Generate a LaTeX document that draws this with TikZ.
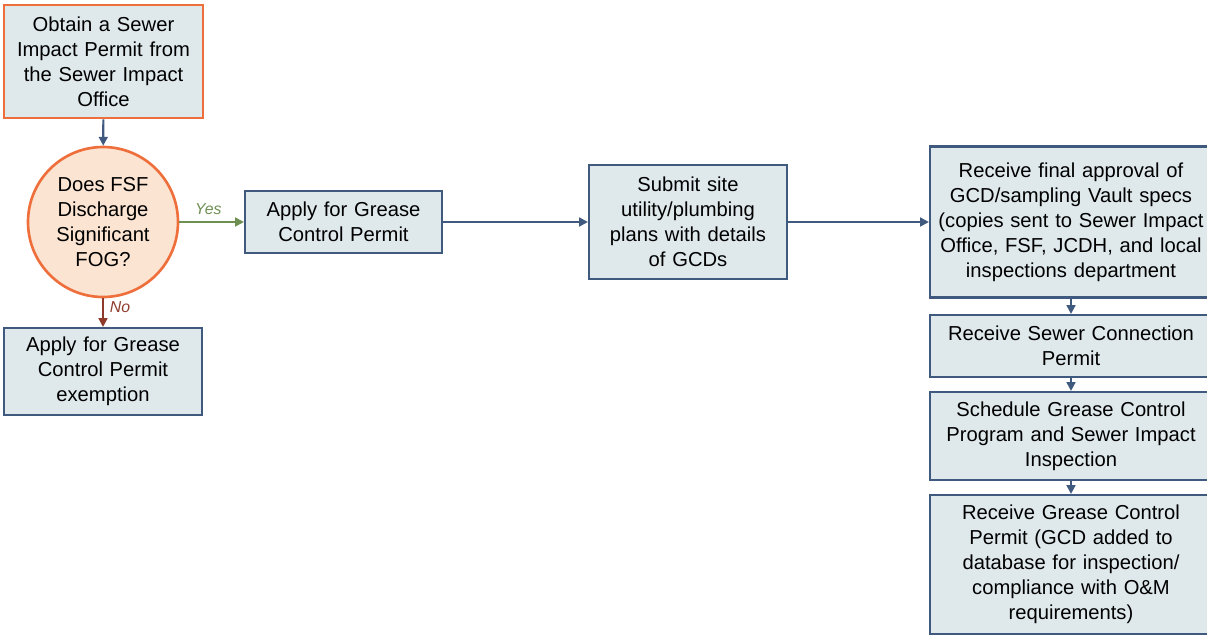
\documentclass[tikz,border=0pt]{standalone}
\usepackage{fontspec}
\setmainfont{Liberation Sans}
\usepackage{tikz}
\usetikzlibrary{positioning, arrows.meta, arrows}
\definecolor{boxfill}{HTML}{DFE9EC}
\definecolor{boxline}{HTML}{3F5A7E}
\definecolor{orangeline}{HTML}{EF6F3C}
\definecolor{fogfill}{HTML}{FBE4D1}
\definecolor{yesgreen}{HTML}{6E8F52}
\definecolor{nored}{HTML}{8E3B2C}

\begin{document}
\begin{tikzpicture}[
    font=\fontsize{11.5}{14.2}\selectfont,
    stepbox/.style={draw=boxline, fill=boxfill, line width=1.2pt, align=center, inner sep=2pt},
    flow/.style={-{Triangle[length=5pt, width=5pt]}, draw=boxline, line width=1.2pt}
  ]

		\useasboundingbox (0,0) rectangle (24.14,-12.72);

		% left column
		\node[stepbox, draw=orangeline, line width=1.5pt, minimum width=3.98cm, minimum height=2.26cm, text width=3.8cm] (obtain) at (2.07,-1.23) {Obtain a Sewer\\Impact Permit from\\the Sewer Impact\\Office};
		\node[circle, draw=orangeline, fill=fogfill, line width=1.5pt, minimum size=3.0cm, align=center] (fog) at (2.06,-4.44) {Does FSF\\Discharge\\Significant\\FOG?};
		\node[stepbox, minimum width=3.96cm, minimum height=1.74cm, text width=3.8cm] (exempt) at (2.06,-7.43) {Apply for Grease\\Control Permit\\exemption};

		% middle
		\node[stepbox, minimum width=3.94cm, minimum height=1.24cm, text width=3.8cm] (apply) at (6.87,-4.44) {Apply for Grease\\Control Permit};
		\node[stepbox, minimum width=3.96cm, minimum height=2.28cm, text width=3.8cm] (submit) at (13.76,-4.44) {Submit site\\utility/plumbing\\plans with details\\of GCDs};

		% right column
		\node[stepbox, minimum width=5.56cm, minimum height=3.02cm, text width=5.5cm] (final) at (21.42,-4.44) {Receive final approval of\\GCD/sampling Vault specs\\(copies sent to Sewer Impact\\Office, FSF, JCDH, and local\\inspections department};
		\node[stepbox, minimum width=5.56cm, minimum height=1.24cm, text width=5.5cm] (conn) at (21.42,-6.92) {Receive Sewer Connection\\Permit};
		\node[stepbox, minimum width=5.56cm, minimum height=1.76cm, text width=5.5cm] (sched) at (21.42,-8.72) {Schedule Grease Control\\Program and Sewer Impact\\Inspection};
		\node[stepbox, minimum width=5.56cm, minimum height=2.78cm, text width=5.5cm] (permit) at (21.42,-11.29) {Receive Grease Control\\Permit (GCD added to\\database for inspection/\\compliance with O\&M\\requirements)};

		% arrows
		\draw[flow] (obtain) -- (fog);
		\draw[flow, draw=yesgreen, fill=yesgreen] (fog) -- (apply) node[pos=0.45, above, font=\itshape\small, text=yesgreen] {Yes};
		\draw[flow, draw=nored, fill=nored] (fog) -- (exempt) node[pos=0.3, right, font=\itshape\small, text=nored] {No};
		\draw[flow] (apply) -- (submit);
		\draw[flow] (submit) -- (final);
		\draw[flow] (final) -- (conn);
		\draw[flow] (conn) -- (sched);
		\draw[flow] (sched) -- (permit);
	\end{tikzpicture}
\end{document}
